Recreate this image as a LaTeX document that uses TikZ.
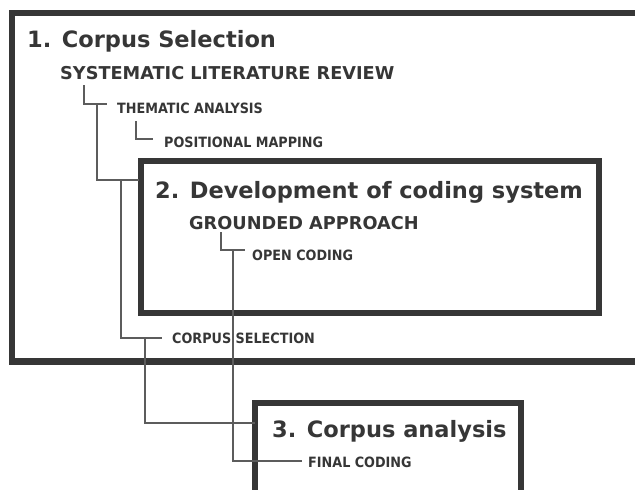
\documentclass[tikz,border=0pt]{standalone}
\usepackage{fontspec}
\setmainfont{DejaVu Sans}
\newfontfamily\condfont{DejaVu Sans Condensed}
\begin{document}
\begin{tikzpicture}[x=1pt,y=-1pt,
  txt/.style={anchor=base west, inner sep=0pt, text=ink},
  title/.style={txt, font=\fontsize{22.5}{26}\bfseries},
  sub/.style={txt, font=\fontsize{17.7}{21}\bfseries},
  lab/.style={txt, font=\condfont\fontsize{14.2}{17}\bfseries},
  frame/.style={draw=ink, line width=6.8pt},
  conn/.style={draw=linegray, line width=1.4pt}
]
\definecolor{ink}{HTML}{363636}
\definecolor{linegray}{HTML}{5C5C5C}
\useasboundingbox[fill=white] (0,0) rectangle (635,490);

% frames
\draw[frame] (660,361.5) -- (12,361.5) -- (12,13) -- (660,13);
\node[frame, minimum width=458pt, minimum height=152pt, inner sep=0pt] (box2) at (370,237) {};
\draw[frame] (255,510) -- (255,403) -- (521,403) -- (521,510);
\coordinate (box3w) at (255,423);

% texts
\node[title] (t1) at (27,47) {1. Corpus Selection};
\node[sub] (slr) at (60,79) {SYSTEMATIC LITERATURE REVIEW};
\node[lab] (thm) at (117,113) {THEMATIC ANALYSIS};
\node[lab] (pos) at (164,147) {POSITIONAL MAPPING};
\node[title] (t2) at (155,198) {2. Development of coding system};
\node[sub] (gra) at (189,229) {GROUNDED APPROACH};
\node[lab] (opc) at (252,260) {OPEN CODING};
\node[lab] (cps) at (172,343) {CORPUS SELECTION};
\node[title] (t3) at (272,437) {3. Corpus analysis};
\node[lab] (fin) at (308,467) {FINAL CODING};

% connector coordinates
\coordinate (a0) at (84,85);   \coordinate (a1) at (107,104);
\coordinate (b0) at (97,104);  \coordinate (b1) at (139,180);
\coordinate (c0) at (136,121); \coordinate (c1) at (153,139);
\coordinate (d0) at (121,180); \coordinate (d1) at (162,338);
\coordinate (e0) at (145,338);
\coordinate (f0) at (221,232); \coordinate (f1) at (245,250);
\coordinate (g0) at (233,250); \coordinate (g1) at (302,461);

\draw[conn] (a0) |- (a1);
\draw[conn] (b0) |- (b1);
\draw[conn] (c0) |- (c1);
\draw[conn] (d0) |- (d1);
\draw[conn] (e0) |- (box3w);
\draw[conn] (f0) |- (f1);
\draw[conn] (g0) |- (g1);
\end{tikzpicture}
\end{document}
